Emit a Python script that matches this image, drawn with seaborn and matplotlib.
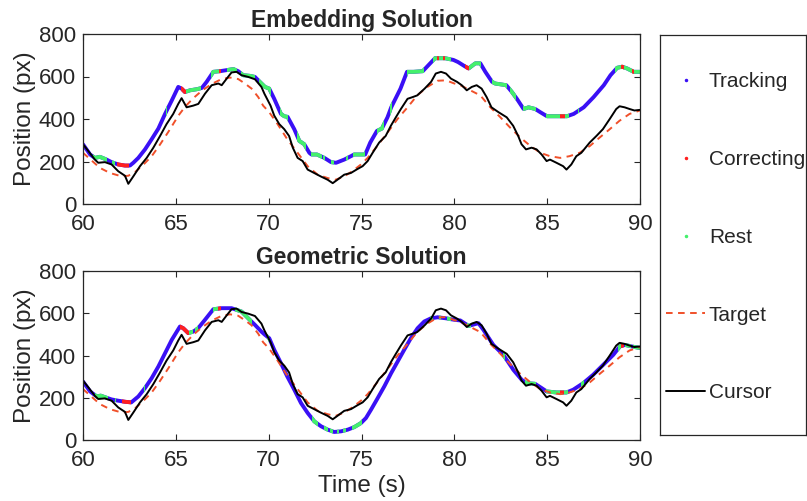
import numpy as np
import pandas as pd
import matplotlib
matplotlib.use("Agg")
import matplotlib.pyplot as plt
import seaborn as sns
from matplotlib.path import Path
from matplotlib.lines import Line2D

# ---------------- data ----------------
target_t = [60.0, 60.46, 60.91, 61.45, 62.08, 62.44, 62.8, 63.25, 63.7, 64.15, 64.6, 65.13,
            65.5, 65.94, 66.4, 66.93, 67.47, 67.92, 68.36, 68.72, 69.08, 69.44, 69.7, 70.03,
            70.48, 71.0, 71.56, 72.1, 72.64, 73.18, 73.6, 74.07, 74.5, 74.97, 75.33, 75.85,
            76.4, 76.94, 77.48, 78.0, 78.55, 79.1, 79.55, 80.0, 80.3, 80.86, 81.4, 81.94,
            82.48, 83.0, 83.55, 84.1, 84.63, 85.15, 85.7, 86.2, 86.75, 87.3, 87.83, 88.37,
            88.9, 89.44, 90.0]
target_px = [241, 205, 170, 146, 130, 133, 150, 185, 225, 280, 340, 415,
             458, 498, 533, 565, 588, 595, 588, 567, 543, 503, 463, 432,
             376, 305, 241, 178, 138, 122, 114, 130, 154, 186, 217, 273,
             336, 400, 455, 511, 551, 580, 582, 567, 560, 535, 511, 455,
             408, 360, 313, 273, 241, 225, 217, 225, 241, 273, 313, 352,
             392, 424, 440]

cursor_t = [60.0, 60.29, 60.64, 60.82, 61.18, 61.54, 61.9, 62.26, 62.44, 62.71, 63.07, 63.43,
            63.79, 64.15, 64.5, 64.86, 65.13, 65.31, 65.58, 65.94, 66.21, 66.57, 66.93, 67.29,
            67.47, 67.74, 68.0, 68.27, 68.54, 68.9, 69.26, 69.61, 69.77, 70.1, 70.3, 70.57,
            70.84, 71.1, 71.3, 71.56, 71.83, 72.1, 72.45, 72.8, 73.18, 73.45, 73.7, 74.07,
            74.43, 74.79, 75.06, 75.33, 75.6, 75.95, 76.3, 76.58, 76.85, 77.12, 77.48, 77.75,
            78.0, 78.4, 78.75, 79.0, 79.28, 79.55, 79.82, 80.14, 80.4, 80.67, 80.94, 81.2,
            81.47, 81.74, 82.0, 82.38, 82.82, 83.17, 83.44, 83.62, 83.86, 84.16, 84.43, 84.7,
            84.97, 85.15, 85.5, 85.86, 86.04, 86.3, 86.57, 86.84, 87.29, 87.65, 88.0, 88.37,
            88.72, 88.9, 89.17, 89.44, 89.7, 90.0]
cursor_px = [281, 249, 209, 194, 197, 186, 154, 133, 95, 130, 178, 217,
             265, 320, 376, 424, 471, 498, 455, 463, 471, 519, 559, 567,
             559, 590, 619, 622, 606, 598, 587, 551, 519, 463, 416, 376,
             352, 320, 265, 217, 202, 162, 146, 130, 114, 98, 114, 138,
             146, 165, 178, 202, 241, 289, 320, 368, 408, 447, 495, 503,
             511, 543, 575, 614, 622, 614, 590, 575, 559, 535, 551, 559,
             543, 503, 455, 432, 408, 368, 320, 281, 257, 265, 257, 233,
             202, 209, 194, 178, 162, 186, 225, 241, 289, 320, 352, 400,
             447, 460, 455, 447, 440, 443]

# Embedding solution (top panel)
emb_t = [60.0, 60.38, 60.64, 60.91, 61.27, 61.54, 61.9, 62.26, 62.53, 62.71, 62.98, 63.34,
         63.7, 64.06, 64.42, 64.78, 65.13, 65.31, 65.49, 65.76, 66.12, 66.4, 66.66, 67.02,
         67.38, 67.74, 68.1, 68.36, 68.63, 68.99, 69.26, 69.52, 69.8, 70.03, 70.3, 70.66,
         70.84, 71.02, 71.38, 71.65, 71.92, 72.19, 72.3, 72.6, 73.0, 73.36, 73.63, 74.07,
         74.43, 74.6, 75.2, 75.47, 75.83, 76.1, 76.4, 76.6, 77.1, 77.45, 77.8, 78.3,
         78.7, 78.96, 79.5, 79.95, 80.2, 80.6, 80.77, 81.13, 81.4, 81.67, 82.03, 82.2,
         82.8, 83.1, 83.37, 83.73, 84.0, 84.36, 84.63, 84.99, 86.07, 86.43, 86.97, 87.5,
         88.05, 88.41, 88.77, 89.04, 89.3, 89.66, 90.0]
emb_px = [281, 233, 217, 222, 209, 197, 186, 181, 181, 194, 217, 257,
          305, 355, 424, 487, 551, 543, 527, 535, 540, 546, 575, 622,
          625, 630, 635, 625, 606, 603, 598, 575, 551, 543, 495, 424,
          413, 410, 352, 297, 281, 241, 233, 233, 217, 197, 194, 209,
          225, 233, 233, 289, 344, 355, 408, 455, 543, 622, 622, 625,
          662, 686, 686, 678, 668, 646, 638, 662, 662, 622, 575, 567,
          559, 527, 495, 447, 455, 447, 432, 413, 413, 424, 455, 503,
          559, 606, 641, 646, 638, 622, 622]
emb_rest = [(60.55, 61.3), (61.55, 61.75), (64.45, 64.55), (65.55, 66.35), (66.9, 67.3),
            (67.75, 68.3), (68.5, 69.25), (69.5, 70.1), (70.62, 71.05), (71.55, 72.0),
            (72.28, 72.85), (72.95, 73.05), (73.35, 73.5), (74.15, 74.25), (74.55, 75.2),
            (75.85, 76.2), (76.55, 76.62), (77.45, 78.35), (78.85, 79.8), (80.8, 81.45),
            (82.05, 82.85), (83.0, 83.3), (83.7, 84.4), (84.95, 86.2), (86.65, 86.72),
            (88.65, 90.0)]
emb_corr = [(61.85, 62.5), (65.3, 65.55), (67.35, 67.45), (79.05, 79.15), (79.4, 79.5),
            (80.6, 80.8), (85.7, 85.95), (89.0, 89.15), (89.55, 89.7)]

# Geometric solution (bottom panel)
geo_t = [60.0, 60.38, 60.74, 60.95, 61.27, 61.54, 61.9, 62.26, 62.6, 62.98, 63.34, 63.7,
         64.06, 64.42, 64.78, 65.22, 65.4, 65.67, 65.94, 66.2, 66.57, 67.02, 67.47, 68.0,
         68.54, 68.9, 69.26, 69.61, 69.8, 70.03, 70.3, 70.66, 71.0, 71.38, 71.74, 72.1,
         72.46, 72.82, 73.18, 73.53, 73.9, 74.26, 74.61, 74.97, 75.24, 75.51, 75.87, 76.23,
         76.6, 76.95, 77.3, 77.66, 78.02, 78.38, 78.74, 79.1, 79.55, 80.0, 80.32, 80.77,
         81.3, 81.57, 82.1, 82.64, 83.18, 83.63, 83.9, 84.35, 84.7, 84.97, 85.5, 86.04,
         86.4, 86.94, 87.48, 88.02, 88.56, 88.92, 89.19, 89.55, 90.0]
geo_px = [277, 230, 206, 210, 200, 192, 186, 181, 178, 206, 246, 293,
          348, 411, 474, 537, 529, 506, 513, 529, 569, 619, 624, 624,
          608, 576, 545, 513, 498, 482, 427, 364, 301, 238, 175, 128,
          88, 65, 49, 38, 41, 49, 61, 80, 104, 143, 198, 254,
          317, 372, 427, 482, 529, 561, 576, 581, 576, 569, 566, 540,
          553, 521, 450, 403, 332, 285, 269, 266, 246, 230, 225, 225,
          238, 269, 309, 356, 403, 443, 450, 443, 435]
geo_rest = [(60.65, 61.35), (61.7, 61.8), (63.3, 63.35), (65.7, 65.95), (66.05, 66.2),
            (67.0, 67.25), (68.2, 69.1), (69.9, 70.0), (72.35, 72.65), (73.0, 73.2),
            (73.3, 73.45), (73.7, 73.8), (74.0, 74.15), (74.5, 75.0), (78.7, 78.85),
            (79.15, 79.3), (79.6, 79.8), (80.7, 80.9), (82.6, 82.75), (83.8, 84.4),
            (84.95, 86.1), (86.8, 87.0), (88.8, 89.0), (89.2, 89.5), (89.6, 90.0)]
geo_corr = [(62.1, 62.6), (65.25, 65.7), (67.25, 67.45), (85.7, 85.9), (89.0, 89.15)]

x_ticks = [60, 65, 70, 75, 80, 85, 90]
y_ticks = [0, 200, 400, 600, 800]
titles = ["Embedding Solution", "Geometric Solution"]
legend_labels = ["Tracking", "Correcting", "Rest", "Target", "Cursor"]

# ---------------- style ----------------
BLUE = "#3a10f5"
RED = "#ff2020"
GREEN = "#44f06c"
TARGET = "#f0502a"
DARK = "#262626"

sns.set_style("ticks")
plt.rcParams["font.family"] = ["Liberation Sans", "DejaVu Sans"]
plt.rcParams["axes.edgecolor"] = DARK
plt.rcParams["xtick.color"] = DARK
plt.rcParams["ytick.color"] = DARK
plt.rcParams["text.color"] = DARK
plt.rcParams["axes.labelcolor"] = DARK

W, H = 807, 501
fig = plt.figure(figsize=(W / 100, H / 100), dpi=100)
ax1 = fig.add_axes([83 / W, 1 - 204 / H, (640 - 83) / W, 170 / H])
ax2 = fig.add_axes([83 / W, 1 - 440 / H, (640 - 83) / W, 169 / H])

target_df = pd.DataFrame({"t": target_t, "px": target_px})
cursor_df = pd.DataFrame({"t": cursor_t, "px": cursor_px})


def clip_path(intervals):
    verts, codes = [], []
    for a, b in intervals:
        verts += [(a, -1000), (b, -1000), (b, 5000), (a, 5000), (a, -1000)]
        codes += [Path.MOVETO, Path.LINETO, Path.LINETO, Path.LINETO, Path.CLOSEPOLY]
    return Path(verts, codes)


def panel(ax, st, sv, rest, corr, title, xlabel):
    sol = pd.DataFrame({"t": st, "px": sv})
    lw = 2.8
    sns.lineplot(data=sol, x="t", y="px", ax=ax, color=BLUE, lw=lw,
                 estimator=None, sort=False)
    for intervals, col in ((rest, GREEN), (corr, RED)):
        sns.lineplot(data=sol, x="t", y="px", ax=ax, color=col, lw=lw,
                     estimator=None, sort=False)
        ln = ax.lines[-1]
        ln.set_solid_capstyle("butt")
        ln.set_clip_path(clip_path(intervals), ax.transData)
    sns.lineplot(data=target_df, x="t", y="px", ax=ax, color=TARGET, lw=1.4,
                 estimator=None, sort=False, dashes=False)
    ax.lines[-1].set_dashes((3.4, 2.8))
    sns.lineplot(data=cursor_df, x="t", y="px", ax=ax, color="black", lw=1.4,
                 estimator=None, sort=False)
    ax.set_xlim(60, 90)
    ax.set_ylim(0, 800)
    ax.set_xticks(x_ticks)
    ax.set_yticks(y_ticks)
    ax.tick_params(direction="in", length=4, width=0.8, top=True, right=True,
                   labelsize=16, pad=5)
    ax.tick_params(axis="x", pad=7)
    for s in ax.spines.values():
        s.set_linewidth(0.9)
        s.set_visible(True)
    ax.set_title(title, fontsize=16.5, fontweight="bold", pad=5)
    ax.set_ylabel("Position (px)", fontsize=17.5, labelpad=2)
    ax.set_xlabel(xlabel, fontsize=17.5, labelpad=3)


panel(ax1, emb_t, emb_px, emb_rest, emb_corr, titles[0], "")
panel(ax2, geo_t, geo_px, geo_rest, geo_corr, titles[1], "Time (s)")

# legend box
axl = fig.add_axes([660 / W, 1 - 435 / H, (806 - 660) / W, 400 / H])
axl.set_xticks([])
axl.set_yticks([])
for s in axl.spines.values():
    s.set_linewidth(0.9)
    s.set_color(DARK)
handles = [
    Line2D([], [], ls="none", marker=".", color=BLUE, markersize=3),
    Line2D([], [], ls="none", marker=".", color=RED, markersize=3),
    Line2D([], [], ls="none", marker=".", color=GREEN, markersize=3),
    Line2D([], [], color=TARGET, lw=1.4, dashes=(3.4, 2.8)),
    Line2D([], [], color="black", lw=1.4),
]
axl.legend(handles, legend_labels, loc="center left", bbox_to_anchor=(0.0, 0.494),
           frameon=False, borderaxespad=0, borderpad=0.3, handlelength=1.85,
           handletextpad=0.2, labelspacing=2.82, fontsize=15)

fig.savefig("out.png", dpi=100)
